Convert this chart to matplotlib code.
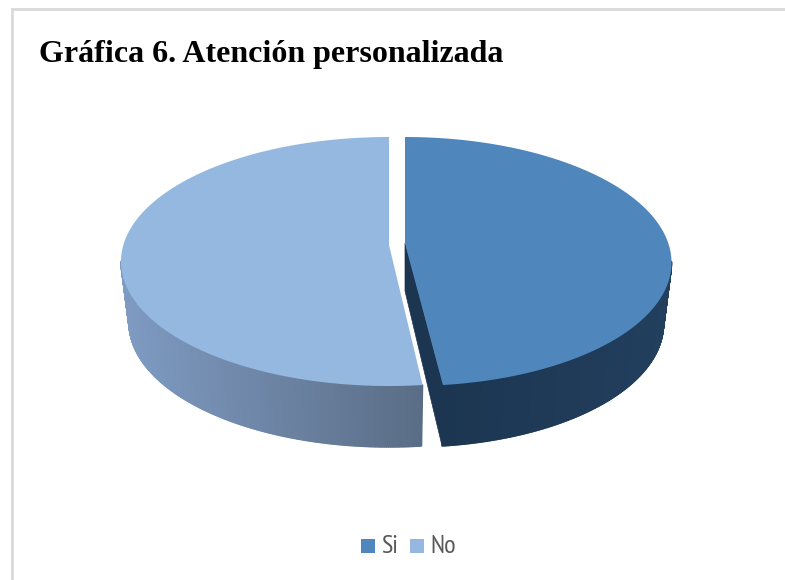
import numpy as np
import matplotlib
matplotlib.use("Agg")
import matplotlib.pyplot as plt
from matplotlib import font_manager
from matplotlib.collections import PolyCollection
from matplotlib.colors import to_rgb
from matplotlib.patches import Polygon, Rectangle

title = "Gráfica 6. Atención personalizada"
categories = ["Si", "No"]
values = [48, 52]
top_colors = ["#4f86bc", "#95b8e0"]
# wall shading, left to right across each slice
side_colors = [("#1c3651", "#223f5e"), ("#7f9bc2", "#5a6d86")]

W, H = 785, 580
fig = plt.figure(figsize=(W / 100, H / 100), dpi=100, facecolor="white")
ax = fig.add_axes([0, 0, 1, 1])
ax.set_xlim(0, W)
ax.set_ylim(H, 0)
ax.axis("off")

# chart frame: left and top edges only
ax.plot([12, 12, W], [H, 8.7, 8.7], color="#d9d9d9", lw=2, solid_joinstyle="miter")

# pie layout: one entry per slice
CY, RY, DEPTH = 261.5, 124.5, 61
CX_BACK = [405, 389]      # ellipse centre at the back of the slice
CX_FRONT = [410, 389]     # ellipse centre at the front of the slice
RX = [264, 268]
BOTTOM_SHRINK = 8         # lower rim is slightly narrower (perspective)
APEX_Y = [243, 245]
CUT_DEPTH = 48


def rim(i, angle, shrink=0.0):
    """Rim point of slice i; angle is clockwise from the top, in degrees."""
    a = np.radians(angle)
    cx = CX_BACK[i] + (CX_FRONT[i] - CX_BACK[i]) * (1 - np.cos(a)) / 2
    return cx + (RX[i] - shrink) * np.sin(a), CY - RY * np.cos(a)


def mix(c0, c1, t):
    return tuple((1 - t) * np.array(to_rgb(c0)) + t * np.array(to_rgb(c1)))


sweep_si = 360 * values[0] / sum(values)
spans = [(0.0, sweep_si), (sweep_si, 360.0)]

# curved outer walls as thin shaded strips, only on the front half
for i, (a0, a1) in enumerate(spans):
    ang = np.linspace(max(a0, 90), min(a1, 270), 240)
    xt, yt = rim(i, ang)
    xb, yb = rim(i, ang, BOTTOM_SHRINK)
    left, right = xt.min(), xt.max()
    quads, cols = [], []
    for k in range(len(ang) - 1):
        quads.append([(xt[k], yt[k]), (xt[k + 1], yt[k + 1]),
                      (xb[k + 1], yb[k + 1] + DEPTH), (xb[k], yb[k] + DEPTH)])
        cols.append(mix(*side_colors[i], (xt[k] - left) / (right - left)))
    ax.add_collection(PolyCollection(quads, facecolors=cols, edgecolors=cols, linewidths=1.0))

# radial cut of the first slice, visible through the gap
bx, by = rim(0, sweep_si)
bbx, bby = rim(0, sweep_si, BOTTOM_SHRINK)
ax.add_patch(Polygon([(CX_BACK[0], APEX_Y[0]), (bx, by), (bbx, bby + DEPTH),
                      (CX_BACK[0], APEX_Y[0] + CUT_DEPTH)],
                     facecolor="#1c3651", edgecolor="#1c3651", lw=0.5))

# top faces
for i, (a0, a1) in enumerate(spans):
    ang = np.linspace(a0, a1, 300)
    xs, ys = rim(i, ang)
    pts = np.vstack([[CX_BACK[i], APEX_Y[i]], np.column_stack([xs, ys])])
    ax.add_patch(Polygon(pts, closed=True, facecolor=top_colors[i], edgecolor="none"))

# legend
available = {f.name for f in font_manager.fontManager.ttflist}
narrow = next((n for n in ["PT Sans Narrow", "Archivo Narrow", "Roboto Condensed", "Liberation Sans"]
               if n in available), "DejaVu Sans")
for x, name, color in zip([361, 410], categories, top_colors):
    ax.add_patch(Rectangle((x, 539), 14, 14, facecolor=color, edgecolor="none"))
    ax.text(x + 20, 553, name, fontsize=19, color="#595959", va="baseline", ha="left", family=narrow)

ax.text(39, 62, title, fontsize=23, fontweight="bold", family="Liberation Serif",
        color="black", va="baseline", ha="left")

fig.savefig("out.png", dpi=100)
